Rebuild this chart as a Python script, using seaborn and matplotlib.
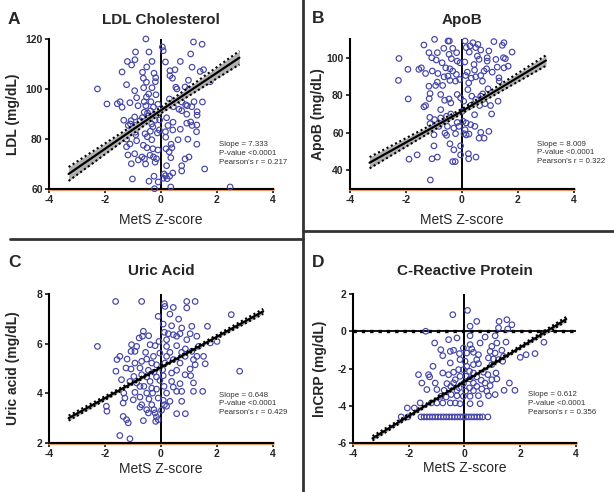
import numpy as np
import pandas as pd
import matplotlib
matplotlib.use("Agg")
import matplotlib.pyplot as plt
from matplotlib.lines import Line2D
import seaborn as sns

# ---- panel A: LDL cholesterol ----
ldl_z = [-0.54, 0.05, 0.08, 1.16, 1.47, -0.43, -0.91, 1.06, -0.32, -0.93,
         -1.2, -1.05, -0.51, 0.16, 0.69, 1.11, 0.32, 0.5, 1.4, 1.52,
         -1.39, -0.66, -0.25, 0.32, 0.41, -0.19, -0.63, -0.2, -0.52, 0.98,
         1.76, -1.23, -2.27, -0.94, -0.62, -0.32, 0.53, 0.57, 0.86, 1.0,
         1.22, -0.44, -0.18, -0.52, -0.87, 0.3, -1.93, -1.56, -1.46, -1.11,
         -0.6, -0.36, -0.11, 0.74, 0.88, 1.18, 1.48, -1.39, -0.82, -0.54,
         -0.27, 0.44, 0.64, 0.94, 1.1, -0.6, -0.48, -0.38, -0.16, 0.74,
         0.92, 1.29, -0.94, -0.67, -0.45, 0.2, 1.29, -0.75, -0.59, -0.21,
         -1.33, -1.07, -0.05, 0.43, 0.92, 1.06, -1.09, -1.17, -0.92, -0.33,
         -0.29, 0.25, 1.11, 1.28, -0.06, 0.42, 0.69, -0.38, -0.92, 1.27,
         -0.9, -0.57, -0.13, 0.16, -0.49, 0.17, -1.23, -0.87, -0.33, 0.61,
         0.96, 1.28, -1.11, -0.63, 0.36, 0.39, -1.23, -0.5, -0.29, 0.18,
         -1.18, -0.94, -0.11, 0.29, -0.68, -0.39, -0.27, 1.0, -0.59, -0.16,
         0.35, -0.81, -1.06, -0.55, -0.21, 0.86, 0.2, 0.74, 1.56, 0.74,
         0.11, 0.16, 0.31, 0.42, -0.25, 0.22, 0.08, -1.02, -0.43, -0.1,
         -0.23, 0.35, 2.47]
ldl_val = [120, 116.8, 115.3, 118.8, 117.9, 114.8, 114.8, 114, 111, 111.7,
           111, 109.6, 108.8, 110.8, 111, 108.7, 107.3, 107.7, 107, 107.7,
           106.8, 106.7, 106.3, 105.3, 104.3, 104.5, 104.3, 102.9, 102.7, 103.5,
           102.9, 101.7, 100, 99.3, 100.5, 100.5, 100.7, 100, 100.8, 100,
           100.3, 98, 97.7, 96.8, 96.5, 96, 94, 94.1, 94.9, 94.5,
           94.9, 94.9, 93.9, 94.8, 93.7, 94.9, 94.8, 92.7, 93.3, 93.3,
           92.8, 92.9, 91.9, 93.3, 92.9, 90.7, 90.4, 91.2, 89.7, 91.3,
           89.9, 90.9, 88.8, 88.5, 89.2, 88.5, 89.5, 87.3, 87, 87.5,
           87.5, 87.3, 87.6, 86.7, 86.3, 86.8, 86, 85.4, 85.4, 86,
           84.9, 85.4, 85.4, 85.6, 83.6, 83.6, 83.9, 83.1, 82.7, 82.9,
           81.7, 82.1, 82.4, 82.9, 80.9, 80.7, 79.9, 79.3, 79.7, 79.7,
           79.9, 77.9, 78, 77.5, 77.9, 76.5, 76.9, 76.5, 76.1, 76.1,
           73.6, 74.1, 75.6, 74.9, 72.8, 73.5, 72.8, 72.8, 72.1, 72.1,
           72.5, 71.6, 70.1, 70, 70.7, 72, 69.3, 69.3, 68, 67.2,
           66, 65.3, 65.1, 66.4, 65.1, 64.1, 64.3, 64, 63.1, 62.8,
           60.1, 60.8, 60.8]
ldl_fit_x = [-3.3, 0.0, 2.8]
ldl_fit_y = [66.0, 91.5, 112.5]
ldl_band = [2.8, 1.2, 2.7]

# ---- panel B: ApoB ----
apob_z = [-0.98, -0.5, -0.45, 0.11, 0.57, 1.14, 1.5, 1.44, -1.36, 0.39,
          0.29, 0.15, 0.49, -0.65, -0.33, 0.67, 0.96, 1.79, -1.18, -0.88,
          -0.46, -0.19, 0.26, 0.55, 0.9, 1.21, 1.48, 1.55, -2.25, -1.08,
          -0.92, -0.71, -0.17, -0.07, -0.38, 0.61, 0.9, 0.1, 0.43, 1.65,
          1.26, 1.5, -1.93, -1.54, -1.45, -1.06, -0.58, -0.43, -0.33, -0.64,
          -0.5, 0.19, 0.45, 0.79, 0.88, 1.08, -1.3, -0.86, -0.2, -0.08,
          0.13, 0.33, 0.49, 0.67, 1.32, -2.27, -0.88, -0.43, -0.23, 0.24,
          0.73, 1.33, -1.18, -0.94, -0.69, 0.21, 0.93, 1.5, -1.14, -0.76,
          -0.17, -0.05, 0.67, 0.74, -1.92, -1.17, -0.62, -0.46, -0.4, 0.06,
          0.35, 0.49, 0.73, 0.82, 1.02, 1.29, -1.3, -1.36, -0.76, 0.31,
          0.63, 0.01, 0.45, 1.06, -0.4, -0.76, -0.55, -1.15, -0.98, -0.17,
          0.04, 0.15, 0.31, -1.14, -0.82, -0.52, -0.29, -0.11, 0.11, 0.46,
          -1.0, -0.61, -0.55, -0.23, 0.07, 0.15, 0.25, 0.67, 0.96, -1.0,
          -0.43, -0.05, 0.61, 0.79, -0.29, -0.05, 0.23, -1.6, -0.88, -1.07,
          -1.89, -0.33, -0.24, 0.24, 0.5, -1.13]
apob_val = [109.8, 108.9, 108.9, 108.9, 107.1, 108.6, 108, 106.6, 106.8, 108,
            106.3, 105.4, 105.4, 105, 105, 104.1, 103.6, 103, 102.7, 102.7,
            101.8, 102.7, 103, 100.9, 100, 99.1, 100, 99.5, 99.6, 100,
            98.8, 97.3, 98.2, 97.3, 99.5, 99.1, 98.2, 97.7, 96.4, 95.5,
            95, 94.6, 93.8, 93.8, 94.6, 92.9, 94.6, 94.1, 92.9, 89.8,
            90.2, 92.3, 93.4, 92.9, 94.1, 92.3, 91.6, 91.6, 91.1, 88.4,
            90.5, 89.1, 89.8, 90.5, 89.3, 87.9, 87, 87.9, 87.5, 86.6,
            87.5, 87.5, 84.8, 85.2, 85.2, 83, 83.4, 84.5, 80.9, 80.4,
            80.4, 78.6, 79.5, 80.7, 78, 78.2, 77.3, 78, 75.9, 76.8,
            79.5, 77.7, 77.7, 75.5, 74.5, 76.8, 74.5, 73.8, 72.3, 74.5,
            74.5, 71.4, 69.6, 70, 70, 67.9, 68.8, 68.2, 67, 65.5,
            66.1, 65.2, 64.3, 64.8, 63.4, 63.4, 62.5, 63.4, 61.6, 63.4,
            58.9, 59.8, 58.6, 59.5, 59.5, 58.8, 59.3, 60.2, 60.7, 53,
            54.1, 53, 57.1, 57.1, 50.9, 48.2, 48.8, 48.2, 47, 46.1,
            45.9, 44.6, 44.6, 46.1, 47, 34.8]
apob_fit_x = [-3.3, 0.0, 3.0]
apob_fit_y = [44.0, 71.5, 98.5]
apob_band = [3.0, 1.2, 2.8]

# ---- panel C: uric acid ----
uric_z = [-1.62, -0.69, 0.12, 0.14, 0.44, 0.92, 1.22, 0.92, 2.51, 0.32,
          -0.1, 0.63, 0.38, 0.08, 1.1, 1.66, 0.74, -0.63, -0.66, -0.44,
          0.12, 0.26, 0.44, 0.56, 0.68, 1.04, 1.28, -0.78, -0.07, 0.2,
          0.92, 2.0, -2.27, -1.05, -0.87, -0.39, -0.21, 0.2, 0.56, 0.87,
          1.34, 1.76, -1.07, -0.93, -0.55, -0.04, 0.32, 0.74, 1.1, -1.47,
          -1.21, -0.51, -0.27, 0.2, 0.44, 0.86, 1.28, 1.52, -1.57, -0.93,
          -0.69, -0.33, -0.16, 0.14, 0.68, 1.16, 1.58, 2.81, -1.61, -1.25,
          -1.07, -0.75, -0.45, -0.25, 0.06, 0.38, 0.56, 1.04, 1.22, -0.97,
          -0.69, -0.51, -0.16, 0.08, 0.86, 1.06, -1.41, -1.11, -0.87, -0.39,
          -0.04, 0.38, 0.68, 1.16, -0.75, -0.61, -0.33, -0.16, 0.11, 0.44,
          0.74, 1.16, 1.49, -1.33, -0.93, -0.51, -0.3, 0.2, 0.56, -1.29,
          -0.99, -0.75, -0.43, -0.1, 0.08, 0.32, 0.74, -1.35, -0.69, -0.33,
          0.12, 0.2, -0.75, -0.51, -0.25, 0.02, -1.95, -1.93, -0.45, -0.21,
          0.56, 0.87, -0.16, -0.1, -1.35, -1.23, -0.63, -0.19, -1.17, -1.47,
          -1.11]
uric_val = [7.7, 7.7, 7.61, 7.5, 7.46, 7.7, 7.7, 7.44, 7.17, 7.19,
            7.1, 6.99, 6.72, 6.79, 6.7, 6.7, 6.63, 6.5, 6.3, 6.32,
            6.46, 6.4, 6.36, 6.3, 6.4, 6.4, 6.3, 6.23, 6.09, 6.16,
            6.16, 6.09, 5.89, 5.96, 5.89, 5.96, 5.92, 5.89, 5.92, 5.79,
            5.89, 6.03, 5.69, 5.69, 5.65, 5.62, 5.65, 5.65, 5.69, 5.49,
            5.38, 5.38, 5.49, 5.49, 5.36, 5.49, 5.49, 5.49, 5.36, 5.22,
            5.29, 5.22, 5.15, 5.22, 5.22, 5.36, 5.19, 4.89, 4.89, 5.02,
            4.98, 5.02, 4.93, 4.85, 4.95, 4.82, 4.93, 4.98, 5.15, 4.68,
            4.75, 4.66, 4.66, 4.71, 4.75, 4.71, 4.55, 4.48, 4.42, 4.48,
            4.52, 4.48, 4.39, 4.42, 4.28, 4.28, 4.21, 4.17, 4.28, 4.25,
            4.08, 4.08, 4.08, 4.01, 4.04, 4.01, 4.01, 4.01, 4.08, 3.81,
            3.74, 3.85, 3.77, 3.81, 3.72, 3.68, 3.68, 3.61, 3.54, 3.54,
            3.54, 3.48, 3.44, 3.34, 3.34, 3.32, 3.48, 3.28, 3.21, 3.21,
            3.18, 3.18, 3.05, 2.94, 3.07, 2.94, 2.9, 2.87, 2.81, 2.3,
            2.17]
uric_fit_x = [-3.3, 0.0, 3.65]
uric_fit_y = [3.0, 5.05, 7.3]
uric_band = [0.1, 0.04, 0.1]

# ---- panel D: C-reactive protein ----
crp_z = [-0.42, 0.11, 0.2, 0.44, 1.24, 1.52, 1.7, 1.55, 1.22, -1.39,
         -0.57, -0.27, 0.2, 0.56, 0.74, 1.1, 1.49, 2.85, -1.07, 0.2,
         -0.39, -0.04, 0.26, 0.98, 1.16, -0.51, -0.85, -0.78, -0.18, 0.08,
         0.32, 0.5, 0.92, 1.1, 1.34, 2.21, 2.53, 2.0, -0.16, 0.02,
         0.44, 0.86, 1.04, 1.22, 1.4, 1.37, -1.13, -0.51, 0.08, 0.32,
         0.5, 0.98, -0.04, 0.18, -0.39, -0.21, 0.32, 0.68, 0.84, 1.13,
         -1.65, -1.29, -1.25, -0.78, -0.57, -0.16, 0.06, 0.44, -0.33, 0.2,
         0.6, 0.98, 1.16, -1.53, -1.05, -0.63, -0.39, -0.04, 0.32, 0.74,
         0.92, 1.61, -0.49, -0.19, 0.18, 0.44, 0.62, -1.35, -0.99, -0.73,
         -0.27, 0.04, 0.32, 0.8, 1.42, 1.81, -0.48, -0.27, -0.04, 0.2,
         0.5, 0.86, 1.1, -0.84, -0.66, -1.59, -1.19, -0.99, -0.78, -0.51,
         -0.33, -0.16, 0.2, 0.56, -2.05, -1.8,
         -2.27, -2.03, -1.56, -1.45, -1.35, -1.25, -1.15, -1.05, -0.95, -0.85,
         -0.75, -0.65, -0.55, -0.45, -0.35, -0.25, -0.15, -0.05, 0.05, 0.15,
         0.25, 0.35, 0.45, 0.55, 0.65, 0.84]
crp_val = [0.89, 1.12, 0.27, 0.53, 0.53, 0.62, 0.35, 0.12, 0.18, 0.0,
           -0.45, -0.36, -0.24, -0.63, -0.31, -0.24, -0.58, -0.59, -0.63, -0.72,
           -1.02, -0.9, -0.95, -0.81, -0.63, -1.08, -0.99, -1.31, -1.2, -1.17,
           -1.13, -1.26, -1.08, -1.17, -1.02, -1.26, -1.2, -1.4, -1.52, -1.61,
           -1.52, -1.43, -1.49, -1.52, -1.35, -1.61, -1.88, -1.7, -1.88, -1.79,
           -1.74, -1.79, -2.06, -2.15, -2.2, -2.06, -2.24, -2.2, -2.33, -2.24,
           -2.33, -2.33, -2.45, -2.24, -2.33, -2.42, -2.42, -2.45, -2.6, -2.56,
           -2.63, -2.6, -2.56, -2.78, -2.78, -2.81, -2.78, -2.81, -2.78, -2.78,
           -2.92, -2.78, -2.96, -3.04, -3.04, -2.96, -3.1, -3.13, -3.13, -3.17,
           -3.17, -3.21, -3.19, -3.22, -3.17, -3.17, -3.4, -3.46, -3.49, -3.49,
           -3.46, -3.46, -3.4, -3.49, -3.53, -3.85, -3.85, -3.85, -3.85, -3.85,
           -3.85, -3.89, -3.89, -3.89, -4.12, -4.12,
           -4.6, -4.6, -4.6, -4.6, -4.6, -4.6, -4.6, -4.6, -4.6, -4.6,
           -4.6, -4.6, -4.6, -4.6, -4.6, -4.6, -4.6, -4.6, -4.6, -4.6,
           -4.6, -4.6, -4.6, -4.6, -4.6, -4.6]
crp_fit_x = [-3.3, 0.0, 3.65]
crp_fit_y = [-5.75, -2.7, 0.65]
crp_band = [0.12, 0.05, 0.12]

stats_ldl = "Slope = 7.333\nP-value <0.0001\nPearson's r = 0.217"
stats_apob = "Slope = 8.009\nP-value <0.0001\nPearson's r = 0.322"
stats_uric = "Slope = 0.648\nP-value <0.0001\nPearson's r = 0.429"
stats_crp = "Slope = 0.612\nP-value <0.0001\nPearson's r = 0.356"

BLUE = "#4545a8"

sns.set_style("ticks")
plt.rcParams["font.family"] = ["Liberation Sans", "DejaVu Sans"]
plt.rcParams["axes.unicode_minus"] = False

fig = plt.figure(figsize=(6.14, 4.92), dpi=100)


def draw_panel(rect, x, y, fit_x, fit_y, band, ylim, yticks, title, title_pad,
               ylabel, ylab_x, xlab_y, stats, stats_xy, zero_h=False):
    ax = fig.add_axes(rect)
    df = pd.DataFrame({"z": x, "v": y})
    sns.scatterplot(df, x="z", y="v", ax=ax, marker="o", s=16,
                    facecolor="none", edgecolor=BLUE, linewidth=0.85,
                    zorder=3, clip_on=False)

    fx = np.array(fit_x)
    fy = np.array(fit_y)
    bw = np.array(band)
    ax.fill_between(fx, fy - bw, fy + bw, color="#b0b0b0", zorder=4, lw=0)
    ax.plot(fx, fy - bw, color="black", lw=1.5, ls=(0, (1, 1.3)), zorder=4)
    ax.plot(fx, fy + bw, color="black", lw=1.5, ls=(0, (1, 1.3)), zorder=4)
    sns.lineplot(x=fit_x, y=fit_y, ax=ax, color="black", lw=1.6, zorder=5)

    ax.axvline(0, color="black", lw=1.4, zorder=2)
    if zero_h:
        ax.axhline(0, color="black", lw=1.3, zorder=2)
        ax.axhline(0, color="black", lw=2.4, ls=(0, (1, 1.5)), zorder=2)
    # faint orange fringe along the x axis line
    ax.axhline(ylim[0], color="#f0a070", lw=2.3, zorder=1, clip_on=False)

    ax.set_xlim(-4, 4)
    ax.set_ylim(*ylim)
    ax.set_xticks([-4, -2, 0, 2, 4])
    ax.set_yticks(yticks)
    sns.despine(ax=ax)
    for s in ["left", "bottom"]:
        ax.spines[s].set_linewidth(1.5)
        ax.spines[s].set_color("black")
    ax.tick_params(direction="out", length=3, width=1.3, labelsize=7.5, pad=1.5)
    for lab in ax.get_xticklabels() + ax.get_yticklabels():
        lab.set_fontweight("bold")

    ax.set_title(title, fontsize=11, fontweight="bold", pad=title_pad)
    ax.set_ylabel(ylabel, fontsize=10, fontweight="bold")
    ax.set_xlabel("MetS Z-score", fontsize=10)
    ax.yaxis.set_label_coords(ylab_x, 0.5)
    ax.xaxis.set_label_coords(0.5, xlab_y)
    ax.text(stats_xy[0], stats_xy[1], stats, transform=ax.transAxes,
            fontsize=5.7, color="#333333", va="center", ha="left",
            linespacing=1.35)
    return ax


draw_panel([0.0798, 0.6159, 0.3648, 0.3049], ldl_z, ldl_val, ldl_fit_x, ldl_fit_y,
           ldl_band, (60, 120), [60, 80, 100, 120], "LDL Cholesterol", 11,
           "LDL (mg/dL)", -0.13, -0.16, stats_ldl, (0.76, 0.236))
draw_panel([0.5700, 0.6159, 0.3648, 0.3049], apob_z, apob_val, apob_fit_x, apob_fit_y,
           apob_band, (30, 110), [40, 60, 80, 100], "ApoB", 11,
           "ApoB (mg/dL)", -0.112, -0.16, stats_apob, (0.836, 0.24))
draw_panel([0.0798, 0.0996, 0.3648, 0.3028], uric_z, uric_val, uric_fit_x, uric_fit_y,
           uric_band, (2, 8), [2, 4, 6, 8], "Uric Acid", 14,
           "Uric acid (mg/dL)", -0.13, -0.13, stats_uric, (0.76, 0.263))
draw_panel([0.5749, 0.0996, 0.3632, 0.3028], crp_z, crp_val, crp_fit_x, crp_fit_y,
           crp_band, (-6, 2), [-6, -4, -2, 0, 2], "C-Reactive Protein", 14,
           "lnCRP (mg/dL)", -0.117, -0.12, stats_crp, (0.786, 0.264), zero_h=True)

# panel letters
for letter, (lx, ly) in zip("ABCD", [(0.012, 0.975), (0.508, 0.978),
                                     (0.014, 0.482), (0.508, 0.482)]):
    fig.text(lx, ly, letter, fontsize=12.5, fontweight="bold", va="top", ha="left")

# dividing lines between panels
fig.add_artist(Line2D([0.4935, 0.4935], [0.0, 1.0], transform=fig.transFigure,
                      color="#333333", lw=2))
fig.add_artist(Line2D([0.016, 0.4935], [0.514, 0.514], transform=fig.transFigure,
                      color="#333333", lw=2))
fig.add_artist(Line2D([0.4935, 1.0], [0.5305, 0.5305], transform=fig.transFigure,
                      color="#333333", lw=2))

fig.savefig("out.png", dpi=100)
